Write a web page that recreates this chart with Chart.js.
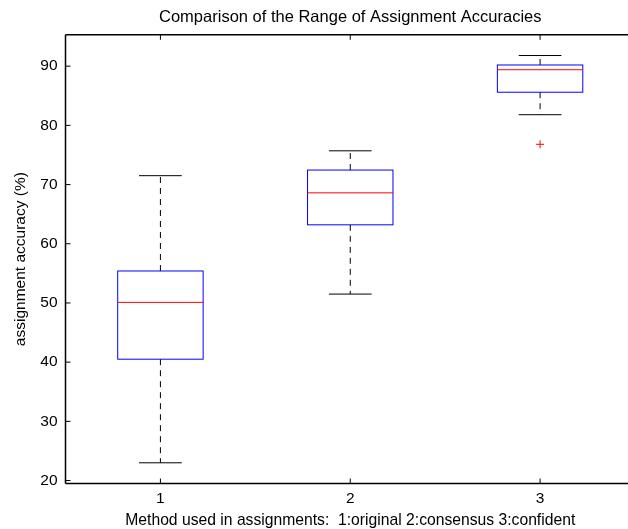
<!DOCTYPE html>
<html>
<head>
<meta charset="utf-8">
<script src="https://cdn.jsdelivr.net/npm/chart.js@4"></script>
<style>
  html, body { margin: 0; padding: 0; background: #fff; overflow: hidden; }
  #wrap { width: 640px; height: 529px; }
</style>
</head>
<body>
<div id="wrap"><canvas id="chart" width="640" height="529"></canvas></div>
<script>
const methods = [1, 2, 3];
const whiskerLow = [23.0, 51.5, 81.8];
const q1 = [40.5, 63.2, 85.6];
const medians = [50.1, 68.6, 89.4];
const q3 = [55.4, 72.45, 90.2];
const whiskerHigh = [71.5, 75.7, 91.8];
const outlierX = [3];
const outlierY = [76.8];
const yTicks = [20, 30, 40, 50, 60, 70, 80, 90];

const FONT = '"Liberation Sans", Arial, Helvetica, sans-serif';

const boxPlugin = {
  id: 'boxes',
  beforeDatasetsDraw(chart) {
    const { ctx, chartArea: a, scales: { x, y } } = chart;
    const boxHalf = 0.225, capHalf = 0.1125;
    ctx.save();
    methods.forEach((m, i) => {
      const cx = x.getPixelForValue(m);
      const bl = x.getPixelForValue(m - boxHalf), br = x.getPixelForValue(m + boxHalf);
      const cl = x.getPixelForValue(m - capHalf), cr = x.getPixelForValue(m + capHalf);
      const yLo = y.getPixelForValue(whiskerLow[i]);
      const yQ1 = y.getPixelForValue(q1[i]);
      const yMed = y.getPixelForValue(medians[i]);
      const yQ3 = y.getPixelForValue(q3[i]);
      const yHi = y.getPixelForValue(whiskerHigh[i]);

      // whiskers
      ctx.strokeStyle = '#000';
      ctx.lineWidth = 1;
      ctx.setLineDash([6, 5]);
      ctx.beginPath();
      ctx.moveTo(cx, yQ3); ctx.lineTo(cx, yHi);
      ctx.moveTo(cx, yQ1); ctx.lineTo(cx, yLo);
      ctx.stroke();
      ctx.setLineDash([]);
      ctx.beginPath();
      ctx.moveTo(cl, yHi); ctx.lineTo(cr, yHi);
      ctx.moveTo(cl, yLo); ctx.lineTo(cr, yLo);
      ctx.stroke();

      // box
      ctx.strokeStyle = '#0000ff';
      ctx.strokeRect(bl, yQ3, br - bl, yQ1 - yQ3);

      // median
      ctx.strokeStyle = '#ff0000';
      ctx.beginPath();
      ctx.moveTo(bl, yMed); ctx.lineTo(br, yMed);
      ctx.stroke();
    });

    // axes frame with inward ticks
    ctx.strokeStyle = '#000';
    ctx.lineWidth = 1.5;
    ctx.beginPath();
    ctx.moveTo(a.left, a.top); ctx.lineTo(a.right, a.top);
    ctx.moveTo(a.left, a.top); ctx.lineTo(a.left, a.bottom);
    ctx.moveTo(a.left, a.bottom); ctx.lineTo(a.right, a.bottom);
    ctx.stroke();
    ctx.lineWidth = 1;
    ctx.beginPath();
    methods.forEach(m => {
      const px = x.getPixelForValue(m);
      ctx.moveTo(px, a.bottom); ctx.lineTo(px, a.bottom - 5);
      ctx.moveTo(px, a.top); ctx.lineTo(px, a.top + 5);
    });
    yTicks.forEach(v => {
      const py = y.getPixelForValue(v);
      ctx.moveTo(a.left, py); ctx.lineTo(a.left + 5, py);
    });
    ctx.stroke();
    ctx.restore();
  }
};

new Chart(document.getElementById('chart'), {
  type: 'scatter',
  data: {
    datasets: [{
      label: 'outliers',
      data: outlierX.map((v, i) => ({ x: v, y: outlierY[i] })),
      pointStyle: 'cross',
      pointRadius: 4,
      borderColor: '#ff0000',
      borderWidth: 1,
      backgroundColor: '#ff0000'
    }]
  },
  options: {
    responsive: false,
    animation: false,
    layout: { padding: { left: 0, right: 5, top: 0, bottom: 0 } },
    plugins: {
      legend: { display: false },
      tooltip: { enabled: false },
      title: {
        display: true,
        fullSize: false,
        text: 'Comparison of the Range of Assignment Accuracies',
        color: '#000',
        font: { family: FONT, size: 16.5, weight: 'normal' },
        padding: { top: 8, bottom: 7 }
      }
    },
    scales: {
      x: {
        type: 'linear',
        min: 0.5,
        max: 3.5,
        afterBuildTicks: s => { s.ticks = methods.map(v => ({ value: v })); },
        afterFit: s => { s.height = 45.5; },
        grid: { display: false, drawTicks: false },
        border: { display: false },
        ticks: { color: '#000', padding: 6, font: { family: FONT, size: 15.5 } },
        title: {
          display: true,
          text: 'Method used in assignments:  1:original 2:consensus 3:confident',
          color: '#000',
          font: { family: FONT, size: 15.7, lineHeight: 1 },
          padding: { top: 0, bottom: 0 }
        }
      },
      y: {
        min: 19.5,
        max: 95.3,
        afterBuildTicks: s => { s.ticks = yTicks.map(v => ({ value: v })); },
        afterFit: s => { s.width = 65.5; },
        grid: { display: false, drawTicks: false },
        border: { display: false },
        ticks: { color: '#000', padding: 8, font: { family: FONT, size: 15.5 } },
        title: {
          display: true,
          text: 'assignment accuracy (%)',
          color: '#000',
          font: { family: FONT, size: 15.5 },
          padding: { top: 11, bottom: 4 }
        }
      }
    }
  },
  plugins: [boxPlugin]
});
</script>
</body>
</html>
